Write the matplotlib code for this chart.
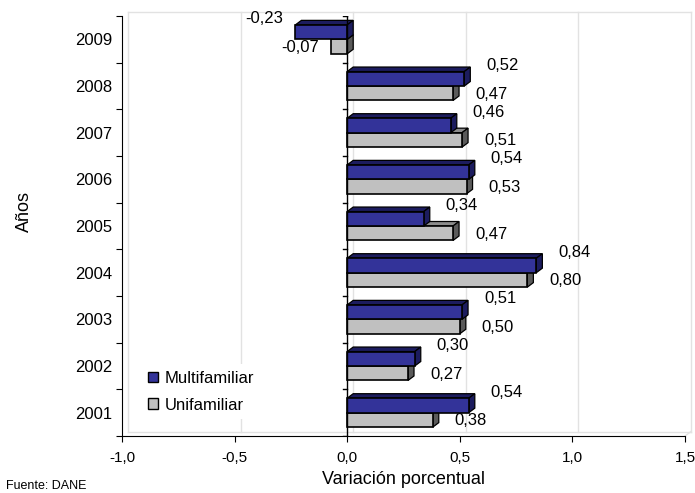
import matplotlib.pyplot as plt
from matplotlib.patches import Polygon, Rectangle
from matplotlib.lines import Line2D

plt.rcParams['font.family'] = ['Liberation Sans', 'DejaVu Sans']

# datos
anios = ['2001', '2002', '2003', '2004', '2005', '2006', '2007', '2008', '2009']
multifamiliar = [0.54, 0.30, 0.51, 0.84, 0.34, 0.54, 0.46, 0.52, -0.23]
unifamiliar = [0.38, 0.27, 0.50, 0.80, 0.47, 0.53, 0.51, 0.47, -0.07]
xticks = [-1.0, -0.5, 0.0, 0.5, 1.0, 1.5]

azul, azul_osc = '#333399', '#1c1c5e'
gris, gris_osc, gris_top = '#c0c0c0', '#5a5a5a', '#8c8c8c'

fig = plt.figure(figsize=(6.95, 4.93), dpi=100)
W, H = 695, 493
x0, x1, y0, y1 = 122, 685, 16, 436
ax = fig.add_axes([x0 / W, 1 - y1 / H, (x1 - x0) / W, (y1 - y0) / H])
ax.set_xlim(-1.0, 1.5)
ax.set_ylim(-0.5, len(anios) - 0.5)

# profundidad 3D en unidades de datos
dx = 6 / ((x1 - x0) / 2.5)
dy = 4.5 / ((y1 - y0) / len(anios))

# pared del fondo
wall = '#e2e2e2'
ytop = len(anios) - 0.5
for xt in xticks:
    ax.add_line(Line2D([xt + dx, xt + dx], [-0.5 + dy, ytop + dy], color=wall, lw=1, clip_on=False, zorder=0))
ax.add_line(Line2D([-1 + dx, 1.5 + dx], [ytop + dy, ytop + dy], color=wall, lw=1, clip_on=False, zorder=0))
ax.add_line(Line2D([-1 + dx, 1.5 + dx], [-0.5 + dy, -0.5 + dy], color=wall, lw=1, clip_on=False, zorder=0))
ax.add_line(Line2D([1.5, 1.5 + dx], [-0.5, -0.5 + dy], color=wall, lw=1, clip_on=False, zorder=0))


def barra3d(y, h, v, cf, cs, ct):
    a, b = min(0, v), max(0, v)
    ax.add_patch(Polygon([(a, y + h), (b, y + h), (b + dx, y + h + dy), (a + dx, y + h + dy)],
                         closed=True, fc=ct, ec='black', lw=0.9, zorder=3))
    ax.add_patch(Polygon([(b, y), (b, y + h), (b + dx, y + h + dy), (b + dx, y + dy)],
                         closed=True, fc=cs, ec='black', lw=0.9, zorder=3))
    ax.add_patch(Rectangle((a, y), b - a, h, fc=cf, ec='black', lw=1.2, zorder=4))


def etiqueta(v, y, oy):
    txt = f'{v:.2f}'.replace('.', ',')
    if v >= 0:
        ax.annotate(txt, (v + dx, y), xytext=(16, oy), textcoords='offset pixels',
                    ha='left', va='center', fontsize=12)
    else:
        ax.annotate(txt, (v, y), xytext=(-12, oy), textcoords='offset pixels',
                    ha='right', va='center', fontsize=12)


h = 0.31
for i, (m, u) in enumerate(zip(multifamiliar, unifamiliar)):
    barra3d(i - h, h, u, gris, gris_osc, gris_top)
    barra3d(i, h, m, azul, azul_osc, azul_osc)
    etiqueta(m, i + h, 6)
    etiqueta(u, i - h / 2, -1)

# eje en cero
ax.axvline(0, color='black', lw=1, zorder=5)
for k in range(len(anios) + 1):
    ax.add_line(Line2D([-0.02, 0], [k - 0.5, k - 0.5], color='black', lw=1, zorder=5))

ax.spines['top'].set_visible(False)
ax.spines['right'].set_visible(False)
ax.set_xticks(xticks)
ax.set_xticklabels([f'{t:.1f}'.replace('.', ',') for t in xticks], fontsize=11)
ax.set_yticks([k - 0.5 for k in range(len(anios) + 1)])
ax.set_yticklabels([])
ax.set_yticks(range(len(anios)), minor=True)
ax.set_yticklabels(anios, minor=True, fontsize=12)
ax.tick_params(axis='y', which='minor', length=0, pad=7)
ax.tick_params(axis='both', which='major', length=4, direction='out', pad=4)
ax.tick_params(axis='x', pad=7)

ax.set_xlabel('Variación porcentual', fontsize=13)
ax.set_ylabel('Años', fontsize=13)
ax.xaxis.set_label_coords(0.5, (436 - 471) / 420)
ax.yaxis.set_label_coords((33 - 122) / 563, (436 - 212) / 420)

leg = [Rectangle((0, 0), 1, 1, fc=azul, ec='black'), Rectangle((0, 0), 1, 1, fc=gris, ec='black')]
ax.legend(leg, ['Multifamiliar', 'Unifamiliar'], loc='lower left', bbox_to_anchor=(0.02, 0.02),
          frameon=True, edgecolor='none', facecolor='white', framealpha=1, fontsize=12,
          handlelength=0.6, handleheight=0.6, handletextpad=0.4, labelspacing=0.7)

fig.text(0.008, 0.003, 'Fuente: DANE', fontsize=9, va='bottom', ha='left')

fig.savefig('out.png', dpi=100)
